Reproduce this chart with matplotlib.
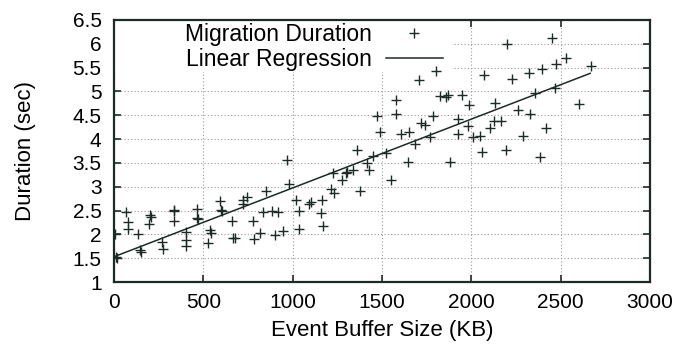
import matplotlib
matplotlib.use("Agg")
import matplotlib.pyplot as plt
from matplotlib.patches import Rectangle

# event buffer size (KB) and migration duration (sec)
buf_kb = [5, 11, 15, 67, 80, 80, 136, 145, 150, 201, 197, 205, 267, 272, 335, 335, 338,
          403, 403, 403, 466, 462, 472, 528, 537, 541, 593, 599, 604, 659, 668, 676,
          720, 724, 743, 780, 784, 817, 836, 851, 883, 901, 920, 948, 967, 982, 1019,
          1037, 1037,
          1090, 1100, 1162, 1157, 1168, 1213, 1231, 1227, 1274, 1298, 1302, 1339, 1377,
          1362, 1414, 1429, 1451, 1470, 1488, 1520, 1548,
          1580, 1580, 1609, 1650, 1647, 1686, 1709, 1716, 1740, 1768, 1787, 1800, 1824,
          1858, 1867, 1883, 1925, 1925, 1945, 1988, 1981, 2009, 2046, 2060, 2071,
          2103, 2126, 2131, 2164, 2193, 2200, 2229, 2260, 2290, 2322, 2328, 2356, 2384,
          2393, 2418, 2450, 2468, 2476, 2530, 2602, 2672]
duration = [2.0, 1.53, 1.50, 2.47, 2.26, 2.11, 2.0, 1.67, 1.63, 2.40, 2.21, 2.36, 1.84, 1.69, 2.51, 2.28, 2.49,
            2.05, 1.89, 1.75, 2.54, 2.35, 2.33, 1.81, 2.09, 2.02, 2.70, 2.52, 2.49, 2.28, 1.93, 1.92,
            2.63, 2.72, 2.79, 2.28, 1.90, 2.02, 2.47, 2.91, 2.49, 1.99, 2.46, 2.07, 3.57, 3.05, 2.73,
            2.49, 2.12,
            2.64, 2.68, 2.72, 2.44, 2.17, 2.96, 2.87, 3.29, 3.15, 3.28, 3.31, 3.36, 2.91,
            3.77, 3.49, 3.35, 3.64, 4.48, 4.15, 3.71, 3.15,
            4.82, 4.52, 4.10, 4.15, 3.52, 3.90, 5.23, 4.34, 4.29, 4.04, 4.48, 5.43, 4.90,
            4.88, 4.92, 3.52, 4.42, 4.10, 4.93, 4.71, 4.27, 4.04, 4.06, 3.73, 5.34,
            4.23, 4.38, 4.75, 4.38, 3.77, 5.99, 5.26, 4.61, 4.06, 5.38, 4.53, 4.97, 3.63,
            5.47, 4.24, 6.13, 5.07, 5.58, 5.70, 4.74, 5.54]

# end points of the fitted line
reg_kb = [0, 2665]
reg_sec = [1.53, 5.38]

xticks = [0, 500, 1000, 1500, 2000, 2500, 3000]
yticks = [1, 1.5, 2, 2.5, 3, 3.5, 4, 4.5, 5, 5.5, 6, 6.5]

ink = "#1c2b26"
plt.rcParams["font.family"] = ["Liberation Sans", "DejaVu Sans"]

fig = plt.figure(figsize=(6.77, 3.48), dpi=100)
ax = fig.add_axes([114 / 677, 1 - 282 / 348, 536 / 677, 262 / 348])

ax.plot(buf_kb, duration, linestyle="none", marker="+", markersize=6.5,
        markeredgewidth=1.0, color=ink, label="Migration Duration", zorder=3)
ax.plot(reg_kb, reg_sec, color=ink, linewidth=1.1, label="Linear Regression", zorder=3)

ax.set_xlim(0, 3000)
ax.set_ylim(1, 6.5)
ax.set_xticks(xticks)
ax.set_yticks(yticks)
ax.set_yticklabels([f"{t:g}" for t in yticks])
ax.tick_params(direction="in", length=5, width=1.2, color=ink, labelsize=15,
               top=True, right=True)
ax.tick_params(axis="x", pad=8)
ax.tick_params(axis="y", pad=9)
for s in ax.spines.values():
    s.set_linewidth(1.6)
    s.set_color(ink)

ax.set_axisbelow(True)
ax.grid(True, linestyle=(0, (1, 2)), color="#9a9a9a", linewidth=0.8)
# the key box blanks out the grid behind it
ax.add_patch(Rectangle((0, 0.80), 0.63, 0.20, transform=ax.transAxes,
                       facecolor="white", edgecolor="none", zorder=1))

ax.set_xlabel("Event Buffer Size (KB)", fontsize=16, labelpad=6)
ax.set_ylabel("Duration (sec)", fontsize=16, labelpad=26)

leg = ax.legend(loc="upper left", bbox_to_anchor=(185 / 677, 1 - 23 / 348),
                bbox_transform=fig.transFigure, frameon=False, fontsize=16.5,
                markerfirst=False, handlelength=2.5, handletextpad=0.6,
                labelspacing=0.1, borderpad=0, borderaxespad=0)

fig.savefig("out.png", dpi=100)
